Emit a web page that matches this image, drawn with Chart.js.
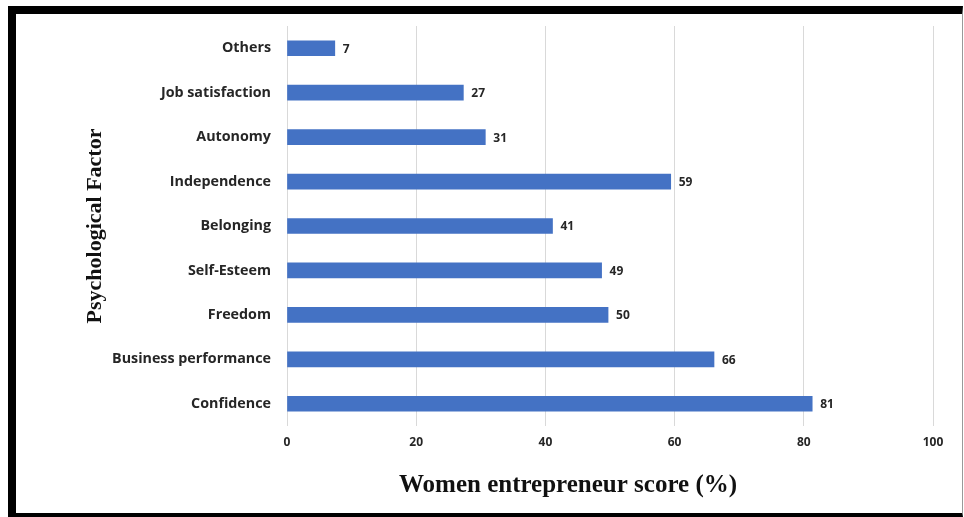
<!DOCTYPE html>
<html>
<head>
<meta charset="utf-8">
<script src="https://cdn.jsdelivr.net/npm/chart.js@4.4.1/dist/chart.umd.min.js"></script>
<style>
  html, body { margin: 0; padding: 0; background: #fff; }
  body { width: 964px; height: 517px; position: relative; overflow: hidden; }
  #frame {
    position: absolute; left: 8px; top: 6px;
    width: 946px; height: 499px;
    border-left: 8px solid #000; border-top: 8px solid #000;
    border-bottom: 4px solid #000; border-right: 1px solid #999;
    background: #fff;
  }
  #wrap { position: absolute; left: 0; top: 0; width: 946px; height: 499px; }
</style>
</head>
<body>
<div id="frame"><div id="wrap"><canvas id="c" width="946" height="499"></canvas></div></div>
<script>
const categories = ["Others", "Job satisfaction", "Autonomy", "Independence", "Belonging", "Self-Esteem", "Freedom", "Business performance", "Confidence"];
const scores = [7.4, 27.3, 30.7, 59.4, 41.1, 48.7, 49.7, 66.1, 81.3];
const xTicks = [0, 20, 40, 60, 80, 100];
const xTitle = "Women entrepreneur score (%)";
const yTitle = "Psychological Factor";

const barLabels = {
  id: 'barLabels',
  afterDatasetsDraw(chart) {
    const ctx = chart.ctx;
    const meta = chart.getDatasetMeta(0);
    ctx.save();
    ctx.font = "bold 12px 'Open Sans', sans-serif";
    ctx.fillStyle = '#262626';
    ctx.textBaseline = 'middle';
    ctx.textAlign = 'left';
    meta.data.forEach((bar, i) => {
      ctx.fillText(String(Math.round(scores[i])), bar.x + 8, bar.y + 1);
    });
    ctx.restore();
  }
};

const axisTitles = {
  id: 'axisTitles',
  afterDraw(chart) {
    const ctx = chart.ctx;
    const a = chart.chartArea;
    ctx.save();
    ctx.fillStyle = '#111';
    ctx.textAlign = 'center';
    ctx.textBaseline = 'middle';
    ctx.font = "bold 25px 'Liberation Serif', 'Times New Roman', serif";
    ctx.fillText(xTitle, a.left + (a.right - a.left) * 0.435, a.bottom + 60);
    ctx.translate(79, (a.top + a.bottom) / 2);
    ctx.rotate(-Math.PI / 2);
    ctx.font = "bold 22px 'Liberation Serif', 'Times New Roman', serif";
    ctx.fillText(yTitle, 0, 0);
    ctx.restore();
  }
};

new Chart(document.getElementById('c'), {
  type: 'bar',
  data: {
    labels: categories,
    datasets: [{
      data: scores,
      backgroundColor: '#4472C4',
      borderWidth: 0,
      barThickness: 15
    }]
  },
  options: {
    indexAxis: 'y',
    responsive: false,
    animation: false,
    devicePixelRatio: 1,
    layout: { padding: { top: 12, right: 29, bottom: 0, left: 0 } },
    plugins: { legend: { display: false }, tooltip: { enabled: false } },
    scales: {
      x: {
        min: 0, max: 100,
        afterBuildTicks(scale) { scale.ticks = xTicks.map(v => ({ value: v })); },
        afterFit(scale) { scale.height = 87; scale.paddingTop = 0; scale.paddingBottom = 0; },
        grid: { color: '#d9d9d9', lineWidth: 1, drawTicks: false },
        border: { display: false },
        ticks: { padding: 9, color: '#262626', font: { family: "'Open Sans', sans-serif", size: 12, weight: 'bold' } }
      },
      y: {
        afterFit(scale) { scale.width = 271; scale.paddingTop = 0; scale.paddingBottom = 0; },
        grid: { display: false, drawTicks: false },
        border: { display: false },
        ticks: { padding: 16, color: '#262626', font: { family: "'Open Sans', sans-serif", size: 14.3, weight: 'bold' } }
      }
    }
  },
  plugins: [barLabels, axisTitles]
});
</script>
</body>
</html>
